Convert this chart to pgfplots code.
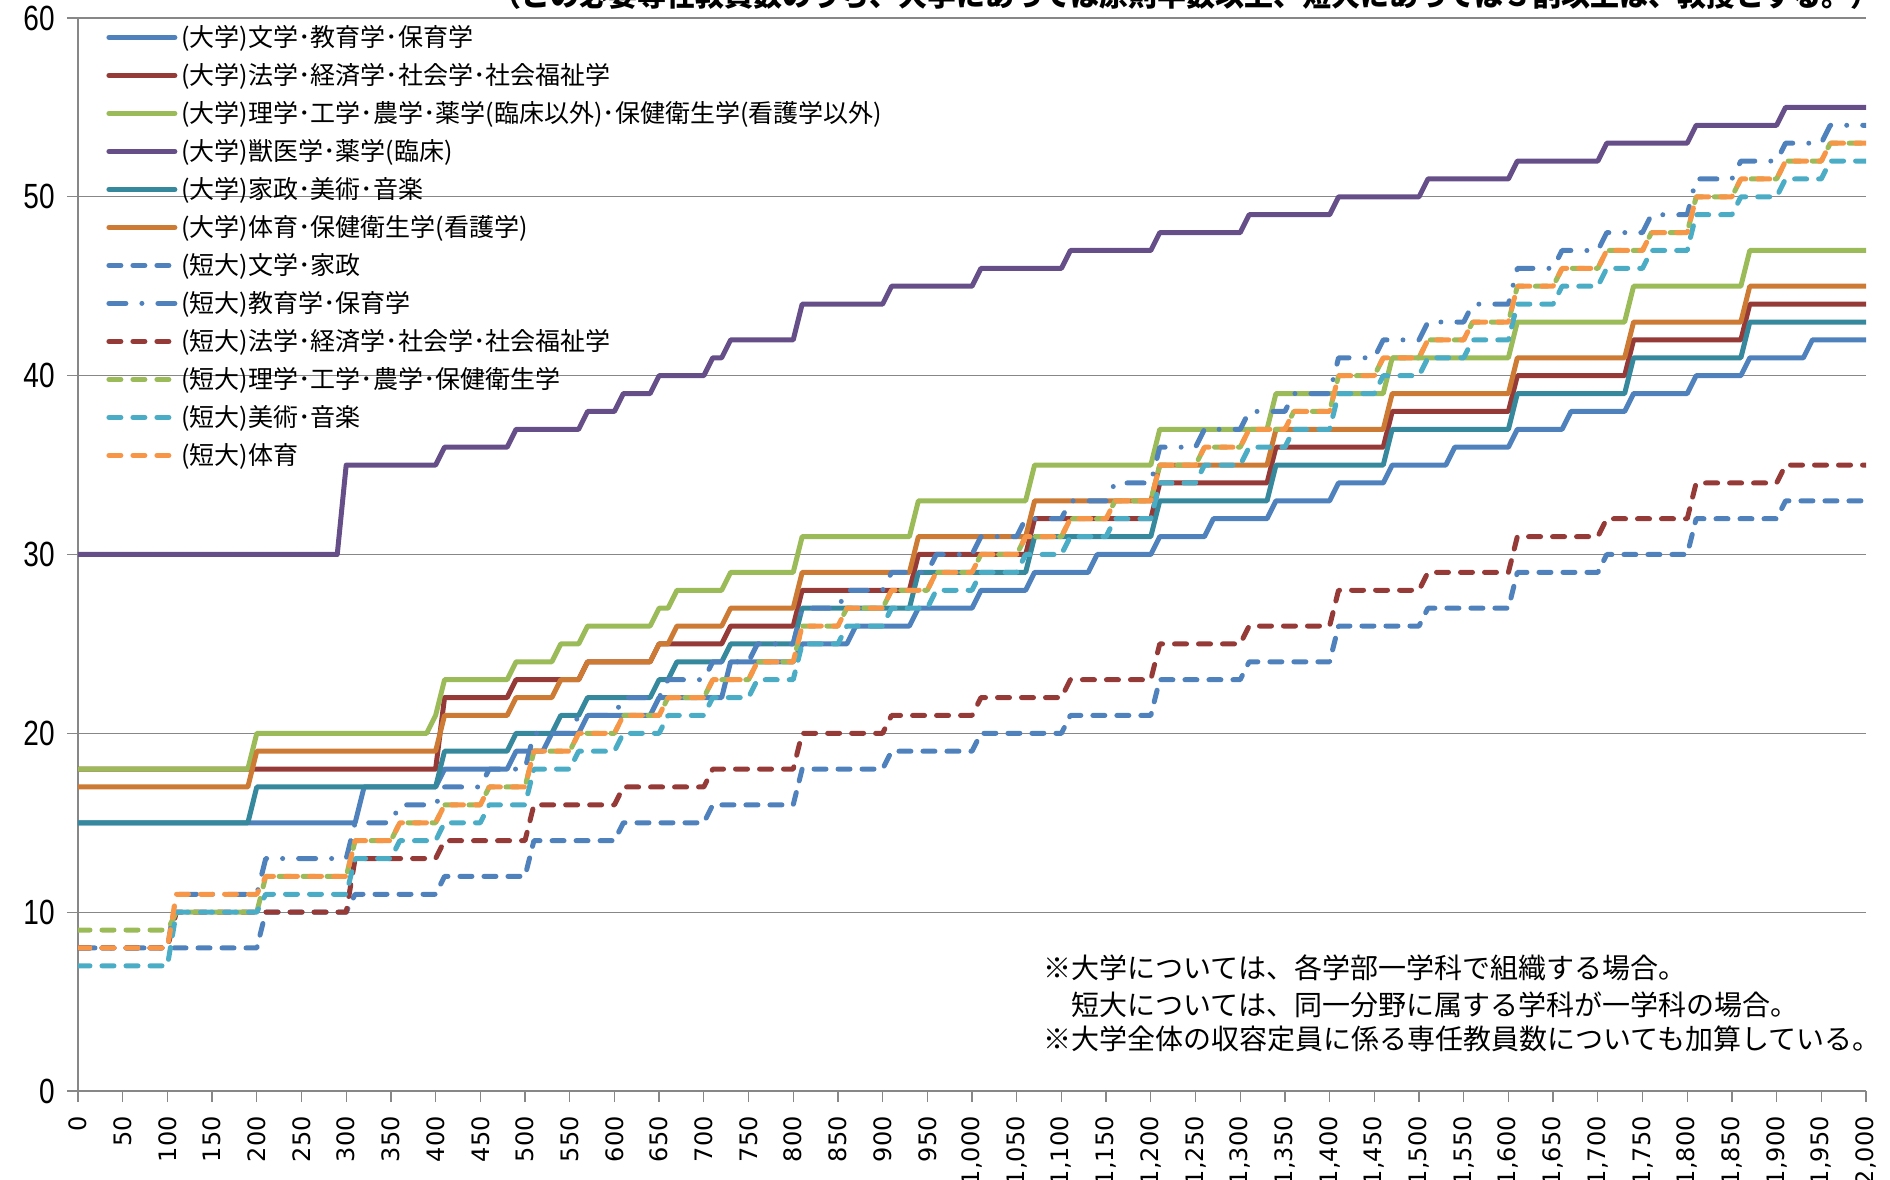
\documentclass[border=0pt]{standalone}
\usepackage{fontspec}
\setmainfont{Noto Sans CJK JP}
\newfontfamily\xtickfont{DejaVu Sans}
\newfontfamily\ytickfont[FakeStretch=0.8]{Liberation Sans}
\usepackage{pgfplots}
\pgfplotsset{compat=1.18}

\definecolor{cBlue}{HTML}{4F81BD}
\definecolor{cRed}{HTML}{953A37}
\definecolor{cGreen}{HTML}{9BBB59}
\definecolor{cPurple}{HTML}{664F88}
\definecolor{cTeal}{HTML}{36889C}
\definecolor{cOrange}{HTML}{CC7A34}
\definecolor{cCyan}{HTML}{4BACC6}
\definecolor{cLOrange}{HTML}{F79646}
\definecolor{cGrid}{HTML}{878787}

\tikzset{
  dsh/.style={dash pattern=on 6pt off 6pt},
  ddot/.style={dash pattern=on 8.5pt off 8pt on 0pt off 8pt},
}

\begin{document}
\begin{tikzpicture}
\begin{axis}[
    at={(0,0)}, anchor=south west,
    scale only axis, width=894pt, height=536.5pt,
    xmin=0, xmax=2000, ymin=0, ymax=60,
    xtick={0,50,...,2000}, ytick={0,10,...,60},
    scaled x ticks=false,
    axis lines*=left,
    axis line style={cGrid, line width=0.65pt},
    ymajorgrids, grid style={cGrid, line width=0.65pt},
    tick align=outside, major tick length=5.5pt,
    tick style={cGrid, line width=0.65pt},
    /pgf/number format/assume math mode=true,
    /pgf/number format/1000 sep={,},
    /pgf/number format/min exponent for 1000 sep=0,
    xticklabel style={font=\xtickfont\fontsize{12}{12}\selectfont, rotate=90, anchor=east, inner sep=0pt, xshift=-7pt},
    yticklabel style={font=\ytickfont\fontsize{17.5}{17.5}\selectfont, anchor=east, inner sep=0pt, xshift=-6pt},
    every axis plot/.append style={line width=2.5pt, line cap=round, line join=round, mark=none},
    legend image code/.code={\draw[#1] (0pt,0pt) -- (33pt,0pt);},
    legend cell align=left,
    legend style={at={(axis description cs:0,1)}, anchor=north west, xshift=14pt,
      draw=none, fill=none, inner sep=0pt, row sep=0pt,
      font=\fontsize{12.5}{12.5}\selectfont,
      nodes={inner sep=2pt, text height=12pt, text depth=3pt}},
  ]
% (大学)
\addplot[cBlue] coordinates {(0,15)(310,15)(320,17)(400,17)(410,18)(480,18)(490,19)(520,19)(530,20)(560,20)(570,21)(640,21)(650,22)(720,22)(730,24)(800,24)(810,25)(860,25)(870,26)(930,26)(940,27)(1000,27)(1010,28)(1060,28)(1070,29)(1130,29)(1140,30)(1200,30)(1210,31)(1260,31)(1270,32)(1330,32)(1340,33)(1400,33)(1410,34)(1460,34)(1470,35)(1530,35)(1540,36)(1600,36)(1610,37)(1660,37)(1670,38)(1730,38)(1740,39)(1800,39)(1810,40)(1860,40)(1870,41)(1930,41)(1940,42)(2000,42)};
\addlegendentry{(大学)文学･教育学･保育学}
\addplot[cRed] coordinates {(0,18)(400,18)(410,22)(480,22)(490,23)(560,23)(570,24)(640,24)(650,25)(720,25)(730,26)(800,26)(810,28)(930,28)(940,30)(1060,30)(1070,32)(1200,32)(1210,34)(1330,34)(1340,36)(1460,36)(1470,38)(1600,38)(1610,40)(1730,40)(1740,42)(1860,42)(1870,44)(2000,44)};
\addlegendentry{(大学)法学･経済学･社会学･社会福祉学}
\addplot[cGreen] coordinates {(0,18)(190,18)(200,20)(390,20)(400,21)(410,23)(480,23)(490,24)(530,24)(540,25)(560,25)(570,26)(640,26)(650,27)(660,27)(670,28)(720,28)(730,29)(800,29)(810,31)(930,31)(940,33)(1060,33)(1070,35)(1200,35)(1210,37)(1330,37)(1340,39)(1460,39)(1470,41)(1600,41)(1610,43)(1730,43)(1740,45)(1860,45)(1870,47)(2000,47)};
\addlegendentry{(大学)理学･工学･農学･薬学(臨床以外)･保健衛生学(看護学以外)}
\addplot[cPurple] coordinates {(0,30)(290,30)(300,35)(400,35)(410,36)(480,36)(490,37)(560,37)(570,38)(600,38)(610,39)(640,39)(650,40)(700,40)(710,41)(720,41)(730,42)(800,42)(810,44)(900,44)(910,45)(1000,45)(1010,46)(1100,46)(1110,47)(1200,47)(1210,48)(1300,48)(1310,49)(1400,49)(1410,50)(1500,50)(1510,51)(1600,51)(1610,52)(1700,52)(1710,53)(1800,53)(1810,54)(1900,54)(1910,55)(2000,55)};
\addlegendentry{(大学)獣医学･薬学(臨床)}
\addplot[cTeal] coordinates {(0,15)(190,15)(200,17)(400,17)(410,19)(480,19)(490,20)(530,20)(540,21)(560,21)(570,22)(640,22)(650,23)(660,23)(670,24)(720,24)(730,25)(800,25)(810,27)(930,27)(940,29)(1060,29)(1070,31)(1200,31)(1210,33)(1330,33)(1340,35)(1460,35)(1470,37)(1600,37)(1610,39)(1730,39)(1740,41)(1860,41)(1870,43)(2000,43)};
\addlegendentry{(大学)家政･美術･音楽}
\addplot[cOrange] coordinates {(0,17)(190,17)(200,19)(400,19)(410,21)(480,21)(490,22)(530,22)(540,23)(560,23)(570,24)(640,24)(650,25)(660,25)(670,26)(720,26)(730,27)(800,27)(810,29)(930,29)(940,31)(1060,31)(1070,33)(1200,33)(1210,35)(1330,35)(1340,37)(1460,37)(1470,39)(1600,39)(1610,41)(1730,41)(1740,43)(1860,43)(1870,45)(2000,45)};
\addlegendentry{(大学)体育･保健衛生学(看護学)}
% (短大)
\addplot[cBlue, dsh] coordinates {(0,8)(200,8)(210,10)(300,10)(310,11)(400,11)(410,12)(500,12)(510,14)(600,14)(610,15)(700,15)(710,16)(800,16)(810,18)(900,18)(910,19)(1000,19)(1010,20)(1100,20)(1110,21)(1200,21)(1210,23)(1300,23)(1310,24)(1400,24)(1410,26)(1500,26)(1510,27)(1600,27)(1610,29)(1700,29)(1710,30)(1800,30)(1810,32)(1900,32)(1910,33)(2000,33)};
\addlegendentry{(短大)文学･家政}
\addplot[cBlue, ddot] coordinates {(0,8)(100,8)(110,11)(200,11)(210,13)(300,13)(310,15)(350,15)(360,16)(400,16)(410,17)(450,17)(460,18)(500,18)(510,20)(550,20)(560,21)(600,21)(610,22)(650,22)(660,23)(700,23)(710,24)(750,24)(760,25)(800,25)(810,27)(850,27)(860,28)(900,28)(910,29)(950,29)(960,30)(1000,30)(1010,31)(1050,31)(1060,32)(1100,32)(1110,33)(1150,33)(1160,34)(1200,34)(1210,36)(1250,36)(1260,37)(1300,37)(1310,38)(1350,38)(1360,39)(1400,39)(1410,41)(1450,41)(1460,42)(1500,42)(1510,43)(1550,43)(1560,44)(1600,44)(1610,46)(1650,46)(1660,47)(1700,47)(1710,48)(1750,48)(1760,49)(1800,49)(1810,51)(1850,51)(1860,52)(1900,52)(1910,53)(1950,53)(1960,54)(2000,54)};
\addlegendentry{(短大)教育学･保育学}
\addplot[cRed, dsh] coordinates {(0,8)(100,8)(110,10)(300,10)(310,13)(400,13)(410,14)(500,14)(510,16)(600,16)(610,17)(700,17)(710,18)(800,18)(810,20)(900,20)(910,21)(1000,21)(1010,22)(1100,22)(1110,23)(1200,23)(1210,25)(1300,25)(1310,26)(1400,26)(1410,28)(1500,28)(1510,29)(1600,29)(1610,31)(1700,31)(1710,32)(1800,32)(1810,34)(1900,34)(1910,35)(2000,35)};
\addlegendentry{(短大)法学･経済学･社会学･社会福祉学}
\addplot[cGreen, dsh] coordinates {(0,9)(100,9)(110,10)(200,10)(210,12)(300,12)(310,14)(350,14)(360,15)(400,15)(410,16)(450,16)(460,17)(500,17)(510,19)(550,19)(560,20)(600,20)(610,21)(650,21)(660,22)(700,22)(710,23)(750,23)(760,24)(800,24)(810,26)(850,26)(860,27)(900,27)(910,28)(950,28)(960,29)(1000,29)(1010,30)(1050,30)(1060,31)(1100,31)(1110,32)(1150,32)(1160,33)(1200,33)(1210,35)(1250,35)(1260,36)(1300,36)(1310,37)(1350,37)(1360,38)(1400,38)(1410,40)(1450,40)(1460,41)(1500,41)(1510,42)(1550,42)(1560,43)(1600,43)(1610,45)(1650,45)(1660,46)(1700,46)(1710,47)(1750,47)(1760,48)(1800,48)(1810,50)(1850,50)(1860,51)(1900,51)(1910,52)(1950,52)(1960,53)(2000,53)};
\addlegendentry{(短大)理学･工学･農学･保健衛生学}
\addplot[cCyan, dsh] coordinates {(0,7)(100,7)(110,10)(200,10)(210,11)(300,11)(310,13)(350,13)(360,14)(400,14)(410,15)(450,15)(460,16)(500,16)(510,18)(550,18)(560,19)(600,19)(610,20)(650,20)(660,21)(700,21)(710,22)(750,22)(760,23)(800,23)(810,25)(850,25)(860,26)(900,26)(910,27)(950,27)(960,28)(1000,28)(1010,29)(1050,29)(1060,30)(1100,30)(1110,31)(1150,31)(1160,32)(1200,32)(1210,34)(1250,34)(1260,35)(1300,35)(1310,36)(1350,36)(1360,37)(1400,37)(1410,39)(1450,39)(1460,40)(1500,40)(1510,41)(1550,41)(1560,42)(1600,42)(1610,44)(1650,44)(1660,45)(1700,45)(1710,46)(1750,46)(1760,47)(1800,47)(1810,49)(1850,49)(1860,50)(1900,50)(1910,51)(1950,51)(1960,52)(2000,52)};
\addlegendentry{(短大)美術･音楽}
\addplot[cLOrange, dsh] coordinates {(0,8)(100,8)(110,11)(200,11)(210,12)(300,12)(310,14)(350,14)(360,15)(400,15)(410,16)(450,16)(460,17)(500,17)(510,19)(550,19)(560,20)(600,20)(610,21)(650,21)(660,22)(700,22)(710,23)(750,23)(760,24)(800,24)(810,26)(850,26)(860,27)(900,27)(910,28)(950,28)(960,29)(1000,29)(1010,30)(1050,30)(1060,31)(1100,31)(1110,32)(1150,32)(1160,33)(1200,33)(1210,35)(1250,35)(1260,36)(1300,36)(1310,37)(1350,37)(1360,38)(1400,38)(1410,40)(1450,40)(1460,41)(1500,41)(1510,42)(1550,42)(1560,43)(1600,43)(1610,45)(1650,45)(1660,46)(1700,46)(1710,47)(1750,47)(1760,48)(1800,48)(1810,50)(1850,50)(1860,51)(1900,51)(1910,52)(1950,52)(1960,53)(2000,53)};
\addlegendentry{(短大)体育}
\end{axis}
% notes
\begin{scope}[every node/.style={anchor=base west, inner sep=0pt, font=\fontsize{14}{14}\selectfont}]
\node at (482.5pt,56.5pt) {※大学については、各学部一学科で組織する場合。};
\node at (482.5pt,38pt) {\hspace*{1em}短大については、同一分野に属する学科が一学科の場合。};
\node at (482.5pt,21pt) {※大学全体の収容定員に係る専任教員数についても加算している。};
\end{scope}
\node[anchor=base east, inner sep=0pt, font=\bfseries\fontsize{14.5}{14.5}\selectfont] at (901pt,542pt) {（この必要専任教員数のうち、大学にあっては原則半数以上、短大にあっては３割以上は、教授とする。）};
\pgfresetboundingbox
\path[use as bounding box] (-39pt,-44pt) rectangle (906pt,545.5pt);
\end{tikzpicture}
\end{document}
